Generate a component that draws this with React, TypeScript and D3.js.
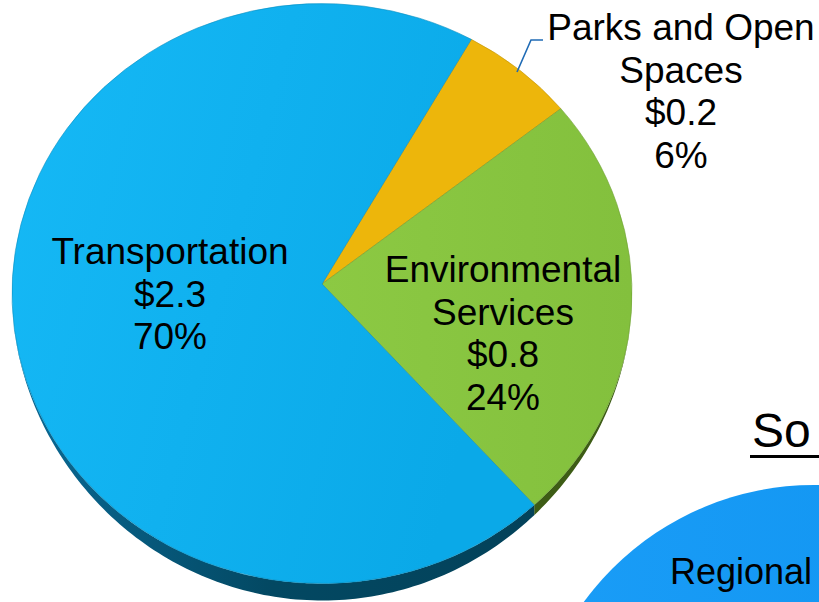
import React from "react";
import * as d3 from "d3";

const categories = ["Parks and Open Spaces", "Environmental Services", "Transportation"];
const amounts = ["$0.2", "$0.8", "$2.3"];
const percents = [6, 24, 70];
const labelLines = [
  ["Parks and Open", "Spaces", "$0.2", "6%"],
  ["Environmental", "Services", "$0.8", "24%"],
  ["Transportation", "$2.3", "70%"],
];
const faceColors = ["#EDB60B", "#88C540", "#0DB0EE"];
const sideColors = ["#7a5d05", "#3d5c15", "#064f70"];
const secondTitle = "So";
const secondLabel = "Regional";

const W = 819;
const H = 602;
const cx = 322;
const cy = 293.5;
const rx = 310;
const ry = 290;
const apex = { x: 322, y: 284 };
const depth = 17;
const startDeg = 28.8;

const pt = (a: number): [number, number] => [cx + rx * Math.sin(a), cy - ry * Math.cos(a)];
const thick = (a: number) => {
  const c = -Math.cos(a);
  return c > 0 ? depth * Math.pow(c, 1.6) : 0;
};

export default function App() {
  const pie = d3
    .pie<number>()
    .sort(null)
    .value((d) => d)
    .startAngle((startDeg * Math.PI) / 180)
    .endAngle((startDeg * Math.PI) / 180 + 2 * Math.PI);
  const arcs = pie(percents);

  const facePath = (a0: number, a1: number) => {
    const p0 = pt(a0);
    const p1 = pt(a1);
    const large = a1 - a0 > Math.PI ? 1 : 0;
    return `M${apex.x},${apex.y}L${p0[0]},${p0[1]}A${rx},${ry} 0 ${large} 1 ${p1[0]},${p1[1]}Z`;
  };
  const line = d3.line<[number, number]>();
  const sidePath = (a0: number, a1: number) => {
    const n = Math.max(8, Math.ceil(((a1 - a0) * 180) / Math.PI));
    const angles = d3.range(n + 1).map((k) => a0 + ((a1 - a0) * k) / n);
    const top = angles.map((a) => pt(a));
    const bottom = angles
      .slice()
      .reverse()
      .map((a) => {
        const p = pt(a);
        return [p[0], p[1] + thick(a)] as [number, number];
      });
    return line([...top, ...bottom]) + "Z";
  };

  const labelPos = [
    { x: 681, y: 40 },
    { x: 503, y: 282 },
    { x: 170, y: 264 },
  ];
  const lineH = 42.5;

  const bigArc = d3.arc<any>()({
    innerRadius: 0,
    outerRadius: 285,
    startAngle: 0,
    endAngle: 2 * Math.PI,
  } as any) as string;

  return (
    <svg
      width={W}
      height={H}
      style={{ position: "absolute", left: 0, top: 0, background: "#fff" }}
      fontFamily="'Liberation Sans', Arial, sans-serif"
    >
      <defs>
        <linearGradient id="gBlue" x1="0" y1="0" x2="1" y2="0.3">
          <stop offset="0" stopColor="#16B9F6" />
          <stop offset="1" stopColor="#0AA9E8" />
        </linearGradient>
        <linearGradient id="gGreen" x1="0" y1="0" x2="1" y2="0">
          <stop offset="0" stopColor="#8CC943" />
          <stop offset="1" stopColor="#83C03D" />
        </linearGradient>
        <linearGradient id="gSide" x1="0" y1="0" x2="1" y2="0">
          <stop offset="0" stopColor="#0a6a96" />
          <stop offset="0.5" stopColor="#034862" />
          <stop offset="1" stopColor="#03425a" />
        </linearGradient>
        <linearGradient id="gBig" x1="0" y1="0" x2="1" y2="0">
          <stop offset="0" stopColor="#1A9DF7" />
          <stop offset="1" stopColor="#0F93F0" />
        </linearGradient>
      </defs>

      <path d={bigArc} transform="translate(814,770)" fill="url(#gBig)" />
      <text x={670} y={584} fontSize={36} fill="#000">
        {secondLabel}
      </text>
      <text x={752} y={447} fontSize={48} fill="#000">
        {secondTitle}
      </text>
      <line x1={750} x2={819} y1={456.5} y2={456.5} stroke="#000" strokeWidth={3} />

      {arcs.map((a, i) => (
        <path
          key={"s" + i}
          d={sidePath(a.startAngle, a.endAngle)}
          fill={i === 2 ? "url(#gSide)" : sideColors[i]}
        />
      ))}
      {arcs.map((a, i) => (
        <path
          key={"f" + i}
          d={facePath(a.startAngle, a.endAngle)}
          fill={i === 2 ? "url(#gBlue)" : i === 1 ? "url(#gGreen)" : faceColors[i]}
          stroke={d3.color(faceColors[i])!.darker(0.6).formatHex()}
          strokeWidth={0.6}
        />
      ))}

      <polyline
        points="517,72 531,40 543,40"
        fill="none"
        stroke="#1f6bb5"
        strokeWidth={1.6}
      />

      {labelLines.map((lines, i) =>
        lines.map((t, j) => (
          <text
            key={categories[i] + j}
            x={labelPos[i].x}
            y={labelPos[i].y + j * lineH}
            fontSize={37}
            textAnchor="middle"
            fill="#000"
          >
            {t}
          </text>
        ))
      )}
    </svg>
  );
}
